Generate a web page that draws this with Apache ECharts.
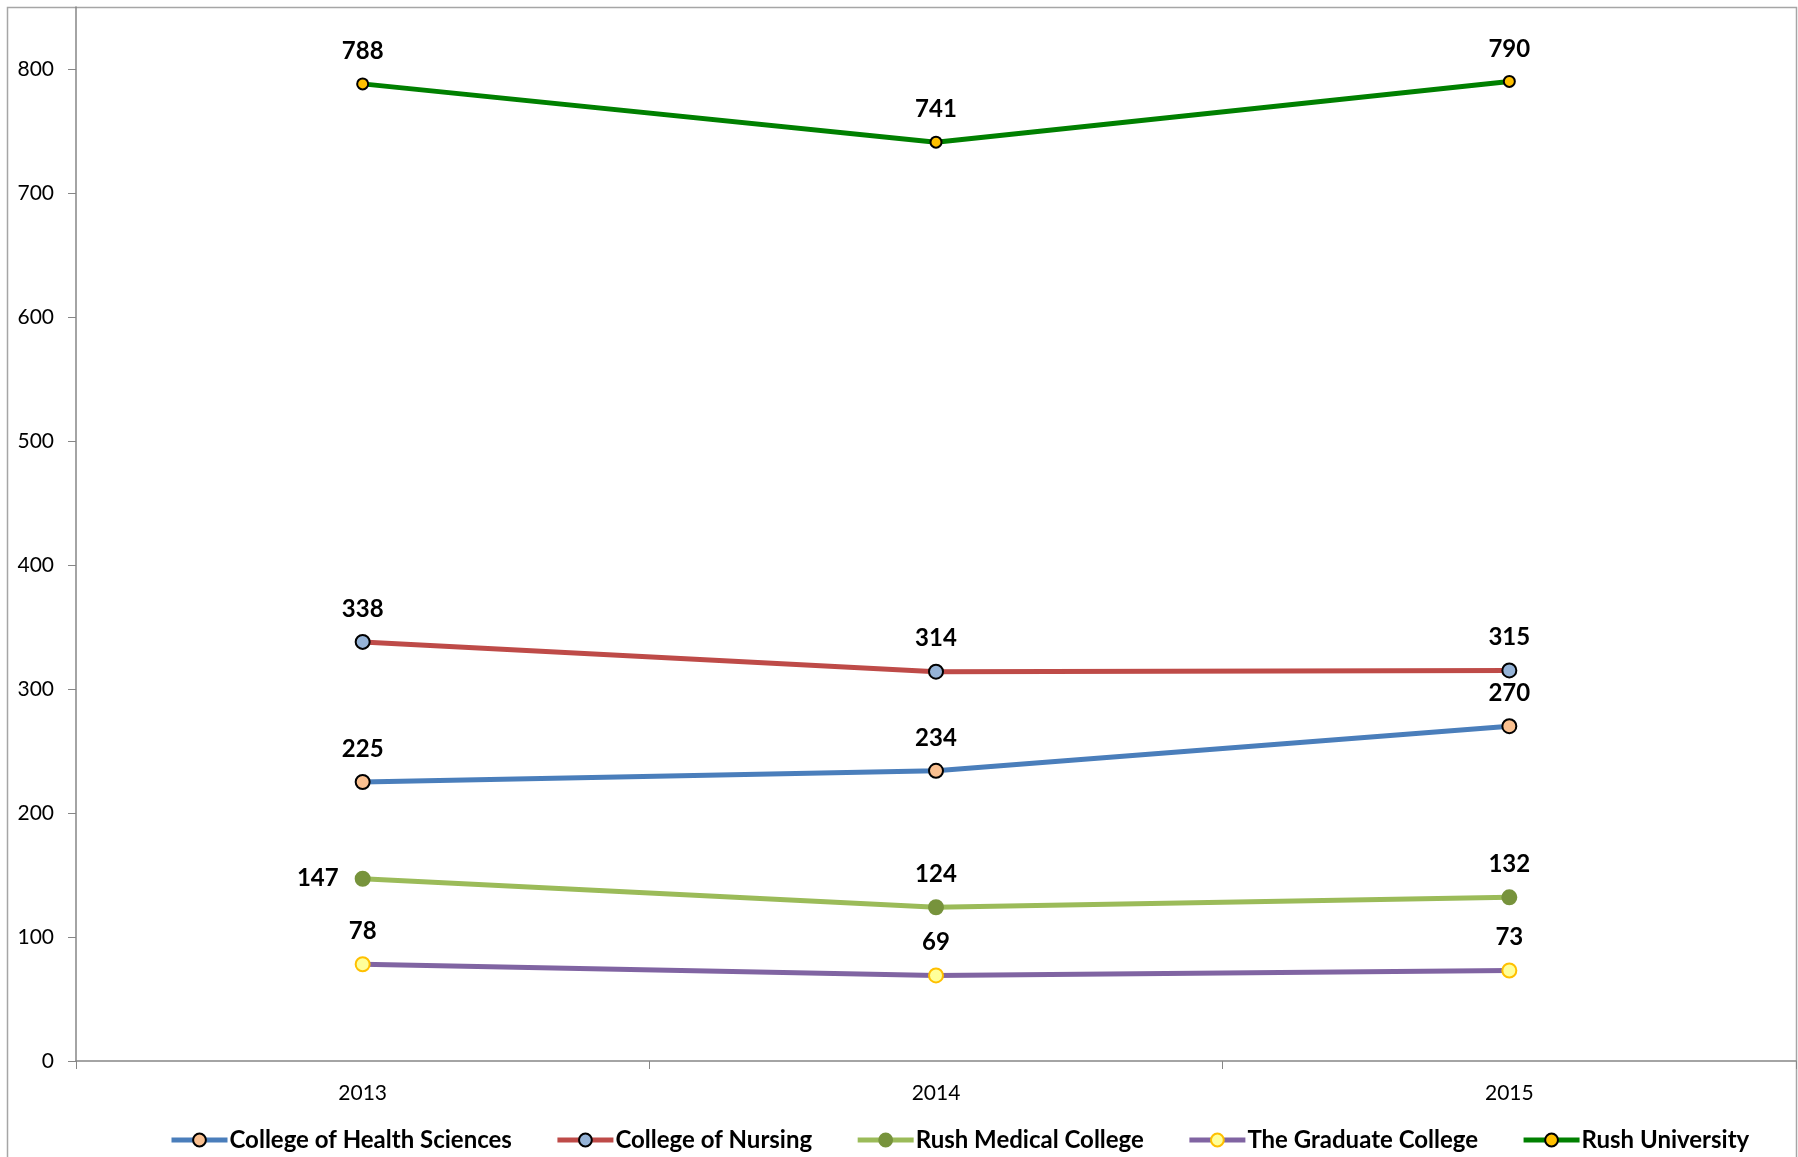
<!DOCTYPE html>
<html><head><meta charset="utf-8">
<script src="https://cdn.jsdelivr.net/npm/echarts@6/dist/echarts.min.js"></script>
<style>html,body{margin:0;padding:0;background:#fff}#c{width:1798px;height:1157px}</style>
</head><body><div id="c"></div>
<script>
const years = ['2013','2014','2015'];
const seriesNames = ['College of Health Sciences','College of Nursing','Rush Medical College','The Graduate College','Rush University'];
const healthSciences = [225,234,270];
const nursing = [338,314,315];
const rushMedical = [147,124,132];
const graduate = [78,69,73];
const rushUniversity = [788,741,790];
const yTicks = [0,100,200,300,400,500,600,700,800];

const FONT = 'Lato';
const styles = [
  {line:'#4A7EBB', fill:'#FAC090', border:'#000', size:14},
  {line:'#BE4B48', fill:'#95B3D7', border:'#000', size:14},
  {line:'#9BBB59', fill:'#77933C', border:'#77933C', size:14},
  {line:'#8064A2', fill:'#FFFF99', border:'#FFC000', size:14},
  {line:'#008000', fill:'#FFC000', border:'#000', size:11}
];
const dataSets = [healthSciences, nursing, rushMedical, graduate, rushUniversity];

const series = dataSets.map((d,i)=>({
  name: seriesNames[i],
  type:'line',
  data: d.map((v,j)=>{
    const o = {value:v};
    if (i===2 && j===0) o.label = {position:'left', distance:16};
    return o;
  }),
  symbol:'circle',
  symbolSize: styles[i].size,
  lineStyle:{color:styles[i].line, width:5},
  itemStyle:{color:styles[i].fill, borderColor:styles[i].border, borderWidth:2},
  label:{show:true, position:'top', distance: i===4 ? 14 : 13, fontFamily:FONT, fontWeight:'bold', fontSize:24, color:'#000'},
  emphasis:{disabled:true},
  animation:false,
  z: 2+i
}));

const chart = echarts.init(document.getElementById('c'));
chart.setOption({
  animation:false,
  backgroundColor:'#fff',
  graphic:[{type:'rect', shape:{x:7.5,y:7.5,width:1789,height:1200}, style:{fill:'none', stroke:'#A6A6A6', lineWidth:1.5}, z:-1}],
  grid:{left:76, right:2, top:7, bottom:96, containLabel:false},
  legend:{
    bottom:0, left:164,
    itemWidth:56, itemHeight:16, itemGap:43,
    textStyle:{fontFamily:FONT, fontWeight:'bold', fontSize:24, color:'#000', padding:[0,0,0,-3]},
    data: seriesNames.map((n,i)=>({name:n, lineStyle:{width:5, color:styles[i].line}}))
  },
  xAxis:{
    type:'category', data:years, boundaryGap:true,
    axisLine:{lineStyle:{color:'#868686', width:1.5}},
    axisTick:{show:true, length:8, lineStyle:{color:'#868686'}},
    axisLabel:{fontFamily:FONT, fontSize:21, color:'#000', margin:22}
  },
  yAxis:{
    type:'value', min:0, max:850, interval:100,
    axisLine:{show:true, lineStyle:{color:'#868686', width:1.5}},
    axisTick:{show:true, length:8, lineStyle:{color:'#868686'}},
    axisLabel:{fontFamily:FONT, fontSize:21, color:'#000', margin:22, showMaxLabel:false,
      formatter: v => yTicks.indexOf(v) >= 0 ? String(v) : ''},
    splitLine:{show:false}
  },
  series: series
});
</script></body></html>
